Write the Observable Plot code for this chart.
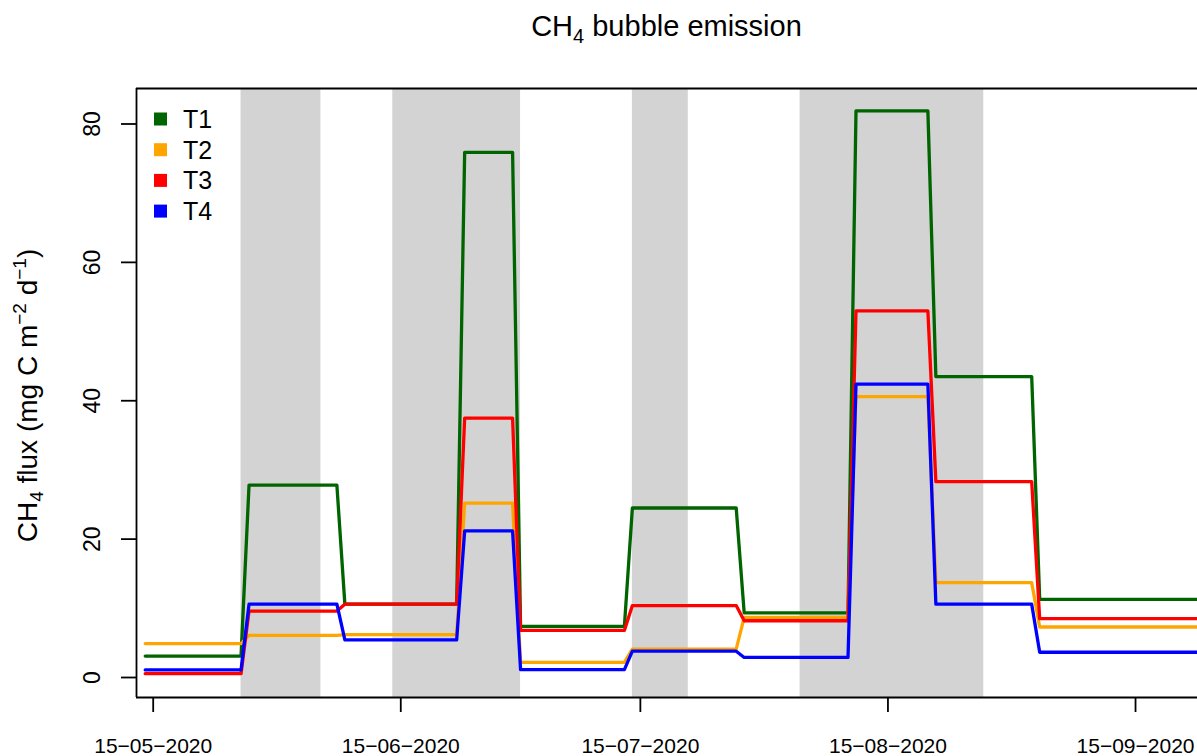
<!DOCTYPE html>
<html><head><meta charset="utf-8">
<script src="https://cdn.jsdelivr.net/npm/d3@7"></script>
<script src="https://cdn.jsdelivr.net/npm/@observablehq/plot@0.6"></script>
<style>html,body{margin:0;padding:0;background:#fff;overflow:hidden}</style>
</head><body><div id="chart"></div>
<script>
// ---- data ----
const series = ["T1", "T2", "T3", "T4"];
const colors = ["#006400", "#FFA500", "#FF0000", "#0000FF"];
// each measurement value holds from periodStart[i] to periodEnd[i]
const periodStart = ["2020-05-14","2020-05-27","2020-06-08","2020-06-23","2020-06-30","2020-07-14","2020-07-28","2020-08-11","2020-08-21","2020-09-03"];
const periodEnd   = ["2020-05-26","2020-06-07","2020-06-22","2020-06-29","2020-07-13","2020-07-27","2020-08-10","2020-08-20","2020-09-02","2020-09-30"];
const valuesT1 = [3.1, 27.8, 10.6, 75.9, 7.4, 24.5, 9.35, 81.9, 43.5, 11.3];
const valuesT2 = [4.9, 6.1, 6.2, 25.2, 2.2, 4.1, 8.7, 40.6, 13.7, 7.3];
const valuesT3 = [0.55, 9.6, 10.6, 37.5, 6.8, 10.4, 8.2, 53.0, 28.3, 8.5];
const valuesT4 = [1.1, 10.6, 5.45, 21.2, 1.15, 3.8, 2.9, 42.4, 10.6, 3.65];
// grey shaded periods
const shadeStart = ["2020-05-26","2020-06-14","2020-07-14","2020-08-04"];
const shadeEnd   = ["2020-06-05","2020-06-30","2020-07-21","2020-08-27"];
// axes
const xTicks = ["2020-05-15","2020-06-15","2020-07-15","2020-08-15","2020-09-15"];
const yTicks = [0, 20, 40, 60, 80];
const xDomain = ["2020-05-12T21:50:00Z", "2020-09-22T18:15:00Z"];
const yDomain = [-2.89, 85.13];

// ---- build tables ----
const allValues = [valuesT1, valuesT2, valuesT3, valuesT4];
const rows = series.flatMap((s, k) => allValues[k].flatMap((v, i) => [
  {series: s, date: new Date(periodStart[i]), value: v},
  {series: s, date: new Date(periodEnd[i]), value: v}
]));
const shades = shadeStart.map((d, i) => ({a: new Date(d), b: new Date(shadeEnd[i])}));

const W = 1197, H = 756;
const fmt = d => d3.utcFormat("%d-%m-%Y")(d).replace(/-/g, "\u2212");
const font = "'Liberation Sans', Arial, Helvetica, sans-serif";

const svg = Plot.plot({
  width: W, height: H,
  marginLeft: 136, marginRight: 0, marginTop: 88, marginBottom: 59,
  style: {fontFamily: font, fontSize: "21px", background: "#fff", color: "#000"},
  x: {type: "utc", domain: xDomain.map(d => new Date(d))},
  y: {domain: yDomain},
  color: {domain: series, range: colors},
  marks: [
    Plot.rect(shades, {x1: "a", x2: "b", fill: "#D3D3D3"}),
    Plot.line(rows, {x: "date", y: "value", z: "series", stroke: "series", strokeWidth: 3.3,
      strokeLinejoin: "round", strokeLinecap: "round", clip: true}),
    Plot.axisX({ticks: xTicks.map(d => new Date(d)), tickSize: 15, tickPadding: 26, tickFormat: fmt,
      label: null, fontSize: 21, strokeWidth: 1.8}),
    Plot.axisY({ticks: yTicks, tickSize: 15, tickRotate: -90, tickPadding: 22, label: null,
      fontSize: 23, strokeWidth: 1.8}),
    Plot.ruleX([new Date(xDomain[0])], {stroke: "#000", strokeWidth: 1.8}),
    Plot.ruleY([yDomain[0], yDomain[1]], {stroke: "#000", strokeWidth: 1.8})
  ]
});

const s = d3.select(svg);
// title
const t = s.append("text").attr("x", (136 + W) / 2).attr("y", 36)
  .attr("text-anchor", "middle").attr("font-size", 29).attr("font-family", font).attr("fill", "#000");
t.append("tspan").text("CH");
t.append("tspan").attr("font-size", 20).attr("dy", 7).text("4");
t.append("tspan").attr("dy", -7).text(" bubble emission");
// y label
const yl = s.append("text").attr("transform", `translate(37,${(88 + 697) / 2 + 3}) rotate(-90)`)
  .attr("text-anchor", "middle").attr("font-size", 28).attr("font-family", font).attr("fill", "#000");
yl.append("tspan").text("CH");
yl.append("tspan").attr("font-size", 19).attr("dy", 6).text("4");
yl.append("tspan").attr("dy", -6).text(" flux (mg C m");
yl.append("tspan").attr("font-size", 19).attr("dy", -11).text("\u22122");
yl.append("tspan").attr("dy", 11).text(" d");
yl.append("tspan").attr("font-size", 19).attr("dy", -11).text("\u22121");
yl.append("tspan").attr("dy", 11).text(")");
// legend
const lg = s.append("g").attr("font-family", font).attr("font-size", 25).attr("text-anchor", "start");
series.forEach((name, i) => {
  const cy = 119 + i * 30.7;
  lg.append("rect").attr("x", 154).attr("y", cy - 6.5).attr("width", 13).attr("height", 13).attr("fill", colors[i]);
  lg.append("text").attr("x", 183).attr("y", cy).attr("dy", "0.36em").attr("text-anchor", "start")
    .attr("fill", "#000").text(name);
});

document.getElementById("chart").appendChild(svg);
</script>
</body></html>
